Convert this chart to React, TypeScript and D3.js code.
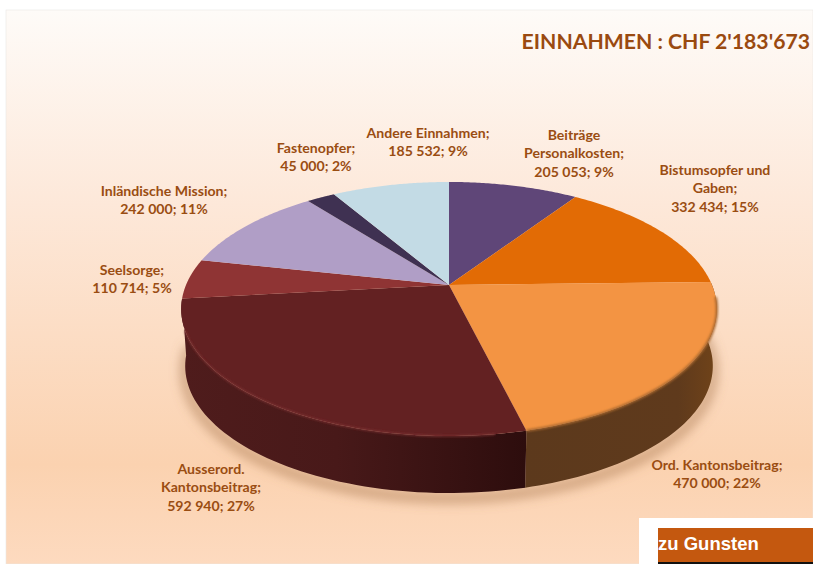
import React from 'react';
import * as d3 from 'd3';

const categories = [
  ['Beiträge', 'Personalkosten;'],
  ['Bistumsopfer und', 'Gaben;'],
  ['Ord. Kantonsbeitrag;'],
  ['Ausserord.', 'Kantonsbeitrag;'],
  ['Seelsorge;'],
  ['Inländische Mission;'],
  ['Fastenopfer;'],
  ['Andere Einnahmen;'],
];
const values = [205053, 332434, 470000, 592940, 110714, 242000, 45000, 185532];
const percents = [9, 15, 22, 27, 5, 11, 2, 9];
const colors = ['#5f4678', '#e26b05', '#f39443', '#632122', '#8f3434', '#b09ec6', '#3f3152', '#c3dbe5'];
const title = "EINNAHMEN : CHF 2'183'673";

// label placement: centre x, centre y of the first line
const labelPos = [[574, 135], [715, 170], [717, 465], [211, 469], [132, 270], [164, 191], [316, 148], [428, 133]];

const width = 813;
const height = 564;
const font = 'Lato, "Open Sans", sans-serif';
const textColor = '#9a4d12';
const lineH = 18.4;

// pie plane seen in perspective
const cx = 449;
const cy = 285;
const A = 263;
const B = 122.5;
const K = 0.189;
const depth = 57;
const bottomScale = 0.985;

const project = (a: number): [number, number] => {
  const u = Math.sin(a);
  const v = -Math.cos(a);
  const d = 1 - K * v;
  return [cx + (A * u) / d, cy + (B * v) / d];
};
const projectBottom = (a: number): [number, number] => {
  const [x, y] = project(a);
  return [cx + (x - cx) * bottomScale, y + depth];
};

const fmt = d3.formatLocale({ decimal: '.', thousands: ' ', grouping: [3], currency: ['', ''] }).format(',d');
const line = d3.line();

const arcSteps = (s: number, e: number) => d3.range(0, 61).map(i => s + ((e - s) * i) / 60);

const arcs = d3.pie<number>().sort(null)(values);

const topPath = (s: number, e: number) => line([[cx, cy], ...arcSteps(s, e).map(project)]) + 'Z';
const sidePath = (s: number, e: number) =>
  line([...arcSteps(s, e).map(project), ...arcSteps(s, e).reverse().map(projectBottom)]) + 'Z';

const rimPath = (s: number, e: number) => line(arcSteps(s, e).map(project));
const outline = line(arcSteps(Math.PI * 0.45, Math.PI * 1.5).map(projectBottom));

export default function App() {
  const ord = arcs[2];
  const aus = arcs[3];
  return (
    <svg width={width} height={height} style={{ position: 'absolute', left: 0, top: 0, display: 'block' }}>
      <defs>
        <linearGradient id="bg" x1="0" y1="0" x2="0" y2="1">
          <stop offset="0" stopColor="#fefbf8" />
          <stop offset="0.35" stopColor="#fde8d9" />
          <stop offset="0.82" stopColor="#fbd2b0" />
          <stop offset="1" stopColor="#fddabf" />
        </linearGradient>
        <linearGradient id="sideOrd" x1="0" y1="0" x2="1" y2="0">
          <stop offset="0" stopColor="#5c391c" />
          <stop offset="0.8" stopColor="#5f3a1c" />
          <stop offset="1" stopColor="#704319" />
        </linearGradient>
        <linearGradient id="sideAus" x1="0" y1="0" x2="1" y2="0">
          <stop offset="0" stopColor="#4f1c1c" />
          <stop offset="0.45" stopColor="#481919" />
          <stop offset="1" stopColor="#2d0d0d" />
        </linearGradient>
        <filter id="shadow" x="-20%" y="-20%" width="140%" height="140%">
          <feGaussianBlur stdDeviation="6" />
        </filter>
        <filter id="soft" x="-5%" y="-5%" width="110%" height="110%">
          <feGaussianBlur stdDeviation="1.1" />
        </filter>
      </defs>

      <rect x={0} y={0} width={width} height={height} fill="#fff" />
      <rect x={6} y={10} width={width - 6} height={height - 10} fill="url(#bg)" stroke="#e9e6e4" strokeWidth={0.6} />

      <path d={outline!} transform="translate(0,5)" fill="none" stroke="#a87850" strokeOpacity={0.7} strokeWidth={8} filter="url(#shadow)" />

      <path d={sidePath(ord.startAngle, ord.endAngle)} fill="url(#sideOrd)" />
      <path d={sidePath(aus.startAngle, aus.endAngle)} fill="url(#sideAus)" />

      {arcs.map((d, i) => (
        <path key={i} d={topPath(d.startAngle, d.endAngle)} fill={colors[i]} />
      ))}

      <path d={rimPath(ord.startAngle + 0.12, ord.endAngle)!} fill="none" stroke="#a9682f" strokeWidth={2.4} filter="url(#soft)" />
      <path d={rimPath(aus.startAngle + 0.1, aus.endAngle - 0.25)!} fill="none" stroke="#7e3233" strokeWidth={1.6} filter="url(#soft)" />

      <g fontFamily={font} fontWeight={700} fontSize={14.1} fill={textColor} textAnchor="middle">
        {arcs.map((d, i) => {
          const lines = [...categories[i], `${fmt(values[i])}; ${percents[i]}%`];
          return (
            <text key={i} x={labelPos[i][0]} y={labelPos[i][1]}>
              {lines.map((t, j) => (
                <tspan key={j} x={labelPos[i][0]} dy={j === 0 ? '0.35em' : lineH}>
                  {t}
                </tspan>
              ))}
            </text>
          );
        })}
      </g>

      <text x={810} y={48.5} textAnchor="end" fontFamily={font} fontWeight={700} fontSize={21.2} fill="#9a4a10">
        {title}
      </text>

      <rect x={639} y={518} width={174} height={46} fill="#fff" />
      <rect x={658} y={528} width={155} height={34} fill="#c4580f" />
      <rect x={658} y={562} width={155} height={2} fill="#111" />
      <text x={658} y={550} fontFamily='"Liberation Sans", sans-serif' fontWeight={700} fontSize={18.5} fill="#fff">
        zu Gunsten
      </text>
    </svg>
  );
}
